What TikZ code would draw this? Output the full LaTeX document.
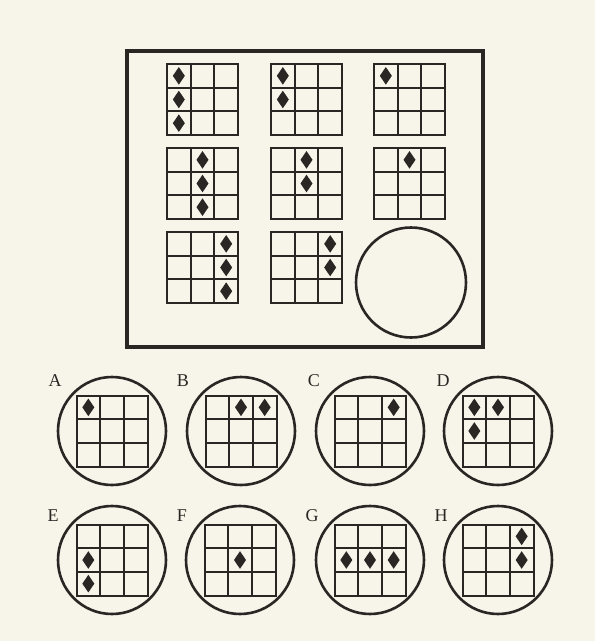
\documentclass[tikz,border=0pt]{standalone}
\usepackage{tikz}
\usepackage{fontspec}
\setmainfont{Liberation Serif}

\definecolor{paper}{RGB}{247,244,234}
\definecolor{ink}{RGB}{42,38,36}

\tikzset{
  gridline/.style={ink, line width=2pt},
  diamondfill/.style={fill=ink},
  ringline/.style={ink, line width=2.6pt},
  framebox/.style={ink, line width=3.3pt},
  optlabel/.style={ink, font=\fontsize{18}{21}\selectfont, inner sep=0pt},
}

% 3x3 grid with its top left corner at #1; #2 = list of col/row cells holding a diamond
\newcommand{\puzzlegrid}[2]{%
  \begin{scope}[shift={(#1)}]
    \foreach \k in {1,2} {
      \draw[gridline] (\k*71/3,0) -- (\k*71/3,71);
      \draw[gridline] (0,\k*71/3) -- (71,\k*71/3);
    }
    \draw[gridline] (0,0) rectangle (71,71);
    \foreach \c/\r in {#2} {
      \fill[diamondfill] ({(\c-0.5)*71/3},{(\r-0.5)*71/3}) +(0,-8.8) -- +(6,0) -- +(0,8.8) -- +(-6,0) -- cycle;
    }
  \end{scope}}

\begin{document}
\begin{tikzpicture}[x=1pt, y=-1pt]
  \fill[paper] (0,0) rectangle (595,641);
  \useasboundingbox (0,0) rectangle (595,641);

  % the matrix
  \draw[framebox] (127,51) rectangle (483,347);
  \puzzlegrid{167,64}{1/1,1/2,1/3}
  \puzzlegrid{271,64}{1/1,1/2}
  \puzzlegrid{374,64}{1/1}
  \puzzlegrid{167,148}{2/1,2/2,2/3}
  \puzzlegrid{271,148}{2/1,2/2}
  \puzzlegrid{374,148}{2/1}
  \puzzlegrid{167,232}{3/1,3/2,3/3}
  \puzzlegrid{271,232}{3/1,3/2}
  \draw[ringline] (411,282.5) circle (55);

  % answers, first row
  \draw[ringline] (112,431) circle (54);
  \puzzlegrid{76.5,395.5}{1/1}
  \node[optlabel] (labA) at (55,381) {A};
  \draw[ringline] (241,431) circle (54);
  \puzzlegrid{205.5,395.5}{2/1,3/1}
  \node[optlabel] (labB) at (183,381) {B};
  \draw[ringline] (370,431) circle (54);
  \puzzlegrid{334.5,395.5}{3/1}
  \node[optlabel] (labC) at (314,381) {C};
  \draw[ringline] (498,431) circle (54);
  \puzzlegrid{462.5,395.5}{1/1,2/1,1/2}
  \node[optlabel] (labD) at (443,381) {D};

  % answers, second row
  \draw[ringline] (112,560) circle (54);
  \puzzlegrid{76.5,524.5}{1/2,1/3}
  \node[optlabel] (labE) at (53,516) {E};
  \draw[ringline] (240,560) circle (54);
  \puzzlegrid{204.5,524.5}{2/2}
  \node[optlabel] (labF) at (182,516) {F};
  \draw[ringline] (370,560) circle (54);
  \puzzlegrid{334.5,524.5}{1/2,2/2,3/2}
  \node[optlabel] (labG) at (312,516) {G};
  \draw[ringline] (498,560) circle (54);
  \puzzlegrid{462.5,524.5}{3/1,3/2}
  \node[optlabel] (labH) at (441,516) {H};
\end{tikzpicture}
\end{document}
